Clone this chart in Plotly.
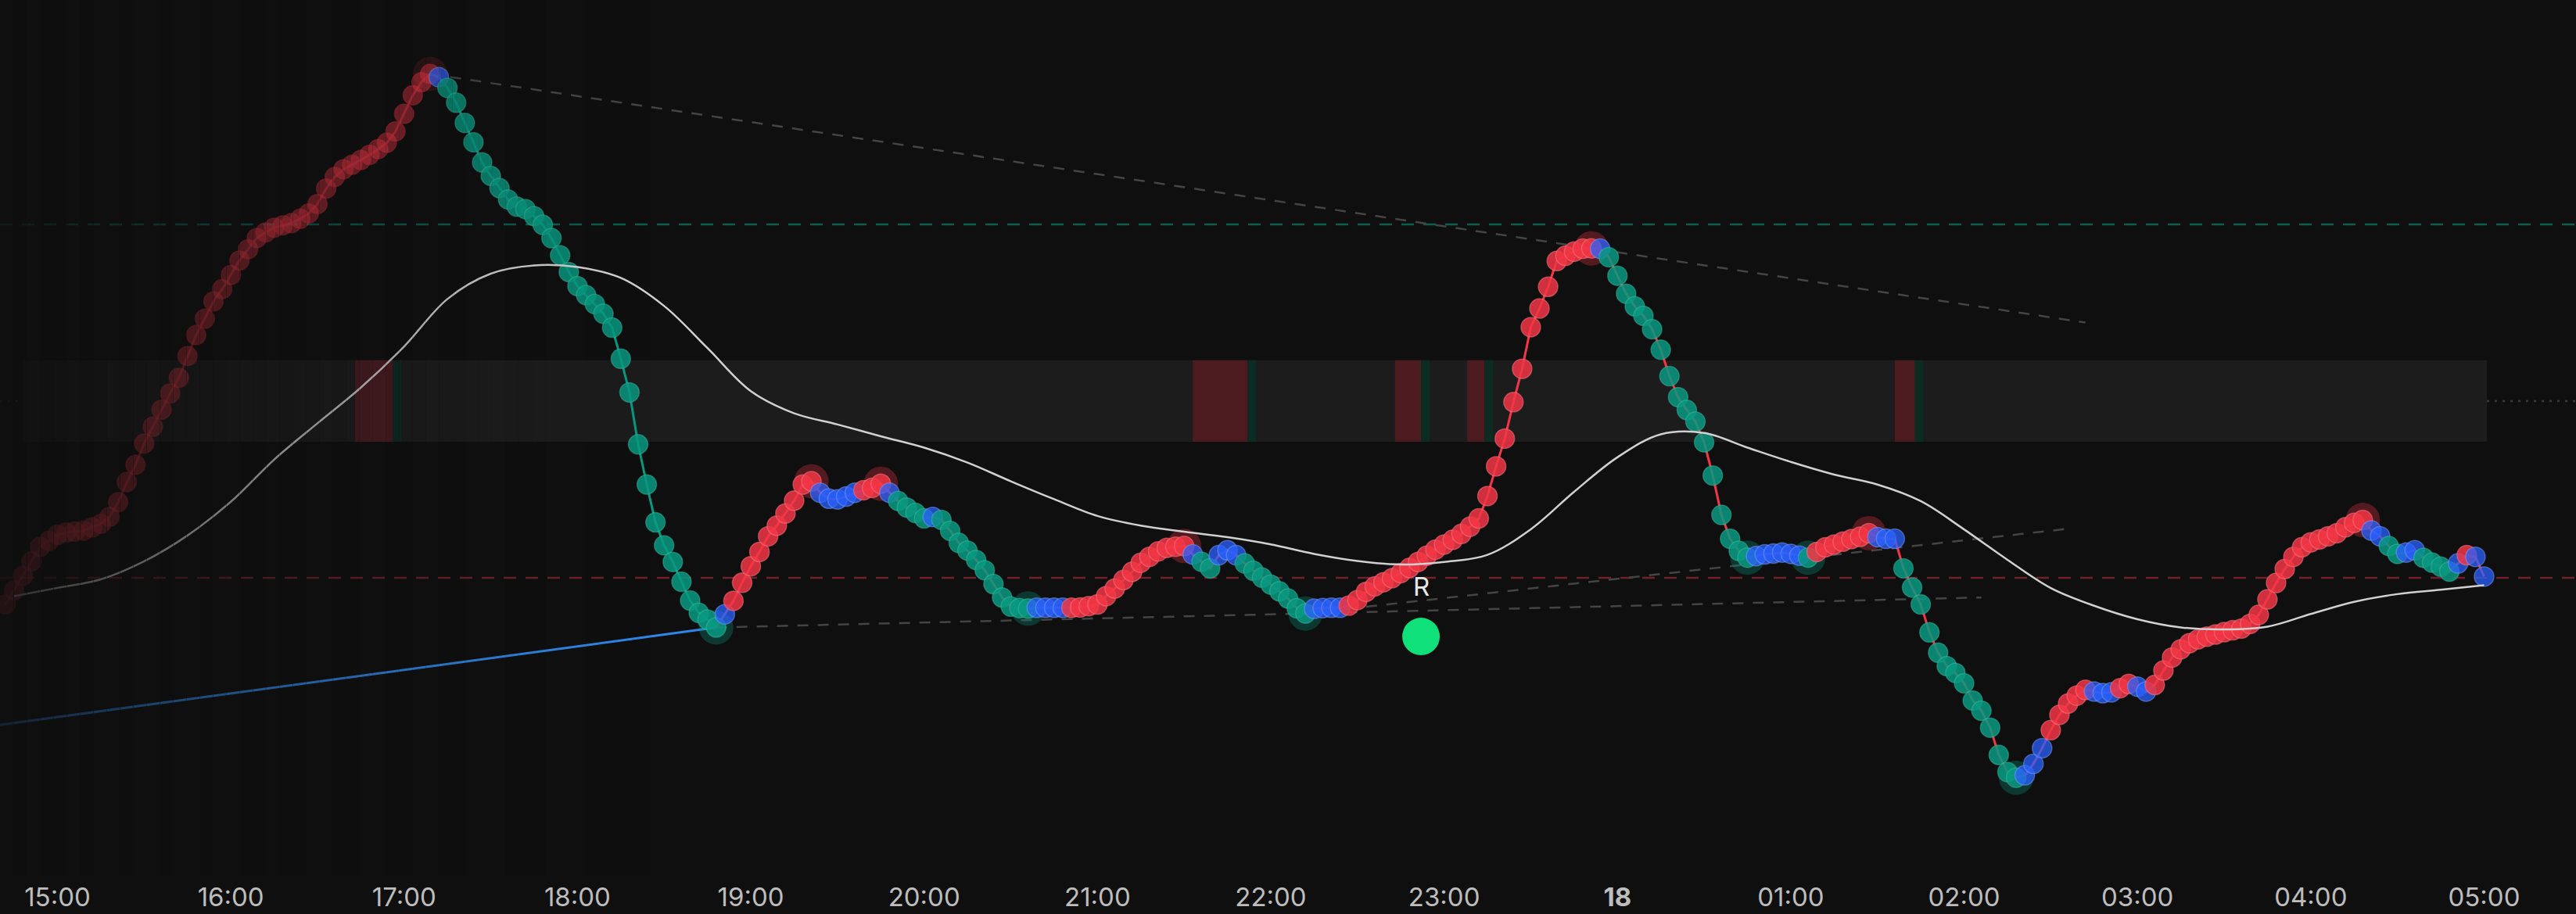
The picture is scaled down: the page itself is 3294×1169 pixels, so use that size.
import plotly.graph_objects as go
import pandas as pd

BG = "#0f0f0f"
RED = (242, 54, 69)
TEAL = (8, 153, 129)
BLUE = (41, 98, 255)


def rgba(c, a):
    return f"rgba({c[0]},{c[1]},{c[2]},{a})"


DAY = "2024-05-17"
NEXT = "2024-05-18"

# 3-minute closes, 17 May 14:42 -> 18 May 05:00
close = [
    188, 196.6, 205.4, 214.3, 223.1, 226.7, 230.4, 231.8, 232.4, 232.9,
    234.9, 237.1, 241.4, 250.3, 262.5, 273, 286, 296.2, 306.6, 316.5,
    326, 339.3, 352, 362, 372.5, 380, 388.6, 397.4, 404.3, 411.1,
    414.5, 417.4, 418.8, 420.2, 422.8, 426.1, 431.8, 441.2, 448.3, 453,
    455.7, 458.6, 461.7, 465.2, 469.1, 476, 486.7, 498, 506, 511,
    509, 502.5, 493.5, 481.2, 469.4, 457.1, 448.9, 441.5, 434.5, 430.2,
    428.7, 424.4, 419.1, 411, 400.6, 390.4, 381.8, 376.3, 370.9, 365,
    356.5, 337.6, 317.1, 285.5, 261, 238, 224, 213.9, 201.8, 190.4,
    182.9, 178.8, 174, 182, 190.2, 201.2, 211.3, 220, 229.5, 236,
    243.4, 251.2, 261, 263, 256, 252.4, 252, 253.7, 256, 257.6,
    259, 261.5, 256, 251, 247, 243.7, 240.4, 241.3, 239.5, 232.8,
    225.5, 220.8, 215.1, 208.8, 200.4, 192.2, 186.7, 185.8, 185.5, 186,
    186, 186, 186, 186, 186.2, 187, 188, 193.1, 197.7, 202.9,
    207.9, 213.4, 217, 220.3, 222.5, 223.2, 223.6, 218.5, 214, 210,
    218, 221, 218, 213, 208.5, 204.3, 200.1, 196, 191.6, 185.7,
    182.5, 185.4, 185.8, 186, 186, 187.3, 190.7, 195.7, 199, 201.5,
    204, 207.1, 210.3, 213.9, 217.7, 221.4, 224.5, 227.4, 231, 235.4,
    240.4, 254, 272.1, 289, 311.2, 331.5, 356.8, 368.2, 381.4, 397.1,
    400.3, 402.8, 404.6, 404.8, 404.6, 399.4, 388.1, 377.2, 369.5, 363.7,
    355.6, 343.1, 327, 314.2, 306.4, 299.3, 286.7, 266.5, 242.5, 228,
    220.6, 216.5, 217.5, 218.5, 219, 219.6, 218.8, 217.7, 216.5, 220,
    222.8, 224.5, 226.2, 227.8, 229.2, 231.4, 229, 228, 228, 210,
    198.3, 188, 171, 158.6, 150.5, 146.3, 140, 129.5, 123.3, 113,
    96.4, 86, 82.5, 84, 91, 100.5, 111.5, 120.8, 127.7, 132.5,
    136, 135, 134, 134.5, 137, 139.6, 138, 135, 139, 147.8,
    155.7, 160.7, 164.4, 166.8, 168.4, 169.7, 171.1, 172.3, 173.3, 176.2,
    181.7, 191.1, 201.1, 209.6, 217, 222.9, 225.8, 227.6, 229.5, 231.4,
    235, 237.7, 239.4, 233, 229.5, 223.6, 218.8, 219.6, 221, 216.4,
    213.5, 211, 208, 213, 218, 217, 205,
]

# colour state of each bar, as runs of (state, count)
state_runs = [
    ("up", 50), ("flat", 1), ("down", 32), ("flat", 1), ("up", 10), ("flat", 5),
    ("up", 3), ("flat", 1), ("down", 4), ("flat", 1), ("down", 11), ("flat", 4),
    ("up", 14), ("flat", 1), ("down", 2), ("flat", 3), ("down", 8), ("flat", 4),
    ("up", 29), ("flat", 1), ("down", 17), ("flat", 6), ("down", 1), ("up", 7),
    ("flat", 3), ("down", 14), ("flat", 3), ("up", 5), ("flat", 3), ("up", 2),
    ("flat", 2), ("up", 25), ("flat", 2), ("down", 2), ("flat", 2), ("down", 4),
    ("flat", 1), ("up", 1), ("flat", 2),
]

pivot_high = [49, 93, 101, 136, 183, 215, 272]
pivot_low = [82, 118, 150, 201, 208, 232]

# smoothed average, every 15 min from 14:45
ma_15m = [
    193, 198.1, 203.3, 214.3, 230, 250.5, 276.2, 298.3, 320, 345.1,
    374, 389.4, 394.4, 393.4, 386.8, 369.7, 344.1, 317.9, 304.4, 297.6,
    290.4, 283.5, 274.4, 263, 252.1, 241.9, 236, 232.3, 229, 224.6,
    218.8, 214.5, 212.3, 213.9, 218.2, 233.8, 256.6, 277.6, 291.6, 292.4,
    283.5, 274.8, 267.1, 261, 250.9, 233.7, 215.2, 198, 187.2, 179,
    174, 172.8, 174.5, 182.2, 189.6, 194.3, 197, 199.7,
]

resist_level = 419.4
support_level = 204.2
band_top, band_bottom, band_mid = 336.7, 287.0, 311.8
band_start, band_end = f"{DAY} 14:48", f"{NEXT} 05:01"
zones = [
    (f"{DAY} 16:43", f"{DAY} 16:56", "sell"), (f"{DAY} 16:56", f"{DAY} 16:59", "buy"),
    (f"{DAY} 21:33", f"{DAY} 21:52", "sell"), (f"{DAY} 21:52", f"{DAY} 21:55", "buy"),
    (f"{DAY} 22:43", f"{DAY} 22:52", "sell"), (f"{DAY} 22:52", f"{DAY} 22:55", "buy"),
    (f"{DAY} 23:08", f"{DAY} 23:14", "sell"), (f"{DAY} 23:14", f"{DAY} 23:17", "buy"),
    (f"{NEXT} 01:36", f"{NEXT} 01:43", "sell"), (f"{NEXT} 01:43", f"{NEXT} 01:46", "buy"),
]
blue_start = (f"{DAY} 14:36", 113.7)
signal_time, signal_value, signal_label = f"{DAY} 22:52", 168.5, "R"

hours = pd.date_range(f"{DAY} 15:00", f"{NEXT} 05:00", freq="1h")
hour_labels = ["<b>18</b>" if h.hour == 0 else h.strftime("%H:%M") for h in hours]

times = pd.date_range(f"{DAY} 14:42", periods=len(close), freq="3min")
ma_times = pd.date_range(f"{DAY} 14:45", periods=len(ma_15m), freq="15min")
states = [s for s, n in state_runs for _ in range(n)]

fig = go.Figure()

# ── band + zones + levels ─────────────────────────────────────────────
fig.add_shape(type="rect", x0=band_start, x1=band_end, y0=band_bottom, y1=band_top,
              fillcolor="#1c1c1c", line_width=0, layer="below")
for x0, x1, kind in zones:
    fig.add_shape(type="rect", x0=x0, x1=x1, y0=band_bottom, y1=band_top,
                  fillcolor="#4b1b20" if kind == "sell" else "#0c2b22",
                  line_width=0, layer="below")
for lvl, col, dash in [(resist_level, "#0d5c4e", "16px,12px"),
                       (support_level, "#6e2128", "16px,12px"),
                       (band_mid, "#3a3a3a", "3px,7px")]:
    fig.add_shape(type="line", xref="paper", x0=0, x1=1, y0=lvl, y1=lvl,
                  line=dict(color=col, width=2.5, dash=dash), layer="below")


# ── trend lines through pivots ────────────────────────────────────────
def trend(i0, i1, i_end):
    slope = (close[i1] - close[i0]) / (i1 - i0)
    return [times[i0], times[i_end]], [close[i0], close[i0] + slope * (i_end - i0)]


for i0, i1, i_end in [(49, 183, 240), (82, 150, 228), (150, 208, 238)]:
    tx, ty = trend(i0, i1, i_end)
    fig.add_trace(go.Scatter(x=tx, y=ty, mode="lines",
                             line=dict(color="#444444", width=2.5, dash="14px,12px")))

fig.add_trace(go.Scatter(x=[blue_start[0], times[82]], y=[blue_start[1], close[82]],
                         mode="lines", line=dict(color="#2f86e6", width=3)))

# ── price path ────────────────────────────────────────────────────────
p0, l0 = pivot_high[0], pivot_low[0]
for a, b, col in [(0, p0, rgba(RED, 0.5)), (p0, l0, rgba(TEAL, 1)), (l0, len(close) - 1, rgba(RED, 1))]:
    fig.add_trace(go.Scatter(x=times[a:b + 1], y=close[a:b + 1], mode="lines",
                             line=dict(color=col, width=3)))

for idx, c in [(pivot_high, RED), (pivot_low, TEAL)]:
    fig.add_trace(go.Scatter(
        x=[times[i] for i in idx], y=[close[i] for i in idx], mode="markers",
        marker=dict(size=44, color=[rgba(c, 0.14 if i <= p0 else 0.3) for i in idx], line_width=0)))

fill, edge = [], []
for i, s in enumerate(states):
    if i <= p0:
        fill.append(rgba(RED, 0.5)); edge.append(rgba(RED, 0.3))
    elif s == "up":
        fill.append(rgba(RED, 0.85)); edge.append("rgba(255,120,130,0.5)")
    elif s == "down":
        fill.append(rgba(TEAL, 0.85)); edge.append("rgba(70,200,170,0.4)")
    else:
        fill.append(rgba(BLUE, 0.75)); edge.append("rgba(120,155,255,0.5)")
fig.add_trace(go.Scatter(x=times, y=close, mode="markers",
                         marker=dict(size=25, color=fill, line=dict(color=edge, width=1.5))))

fig.add_trace(go.Scatter(x=ma_times, y=ma_15m, mode="lines",
                         line=dict(color="#d0d0d0", width=2.5, shape="spline")))

fig.add_trace(go.Scatter(x=[signal_time], y=[signal_value], mode="markers",
                         marker=dict(size=48, color="#0fe07a", line_width=0)))
fig.add_annotation(x=signal_time, y=signal_value, text=signal_label, showarrow=False,
                   yshift=64, font=dict(size=33, color="#e6e6e6", family="Inter"))

# ── left fade ─────────────────────────────────────────────────────────
W, fade_px, n = 3294, 850, 50
for j in range(n):
    xa, xb = j * fade_px / n, (j + 1) * fade_px / n
    op = 0.85 * (1 - (xa + xb) / 2 / fade_px) ** 1.5
    fig.add_shape(type="rect", xref="paper", yref="paper", x0=xa / W, x1=xb / W + 0.0002,
                  y0=0, y1=1, fillcolor=BG, opacity=op, line_width=0, layer="above")

fig.update_layout(
    width=3294, height=1169,
    paper_bgcolor=BG, plot_bgcolor=BG,
    margin=dict(l=0, r=0, t=0, b=48),
    showlegend=False,
    font=dict(family="Inter", color="#bdbdbd"),
    xaxis=dict(range=[f"{DAY} 14:40:06", f"{NEXT} 05:31:49"], tickvals=hours, ticktext=hour_labels,
               showgrid=False, zeroline=False, showline=False, ticks="",
               tickfont=dict(size=33, color="#bdbdbd", family="Inter"), ticklabelstandoff=4),
    yaxis=dict(range=[22.4, 556], visible=False, showgrid=False, zeroline=False),
)

fig.write_html("out.html", config={"displayModeBar": False}, post_script=(
    "document.body.style.margin='0';document.body.style.background='#0f0f0f';"
    "document.body.style.overflow='hidden';"))
